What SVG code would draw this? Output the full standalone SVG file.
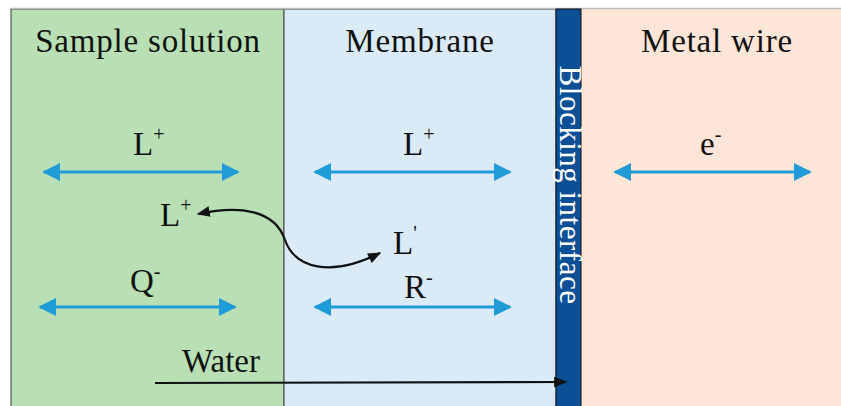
<svg xmlns="http://www.w3.org/2000/svg" width="841" height="406" viewBox="0 0 841 406">
<defs>
<style>
.t{font-size:33px;text-anchor:middle;letter-spacing:0.8px}
.s{font-size:20px}
.b{stroke:#1f9bd7;stroke-width:3;fill:none;marker-start:url(#ba);marker-end:url(#ba)}
.k{stroke:#111;stroke-width:2.2;fill:none}
</style>
<marker id="ba" viewBox="0 0 10 10" refX="9" refY="5" markerWidth="6" markerHeight="6" markerUnits="strokeWidth" orient="auto-start-reverse"><path d="M0,0 L10,5 L0,10 Z" fill="#1f9bd7"/></marker>
<marker id="ka" viewBox="0 0 10 10" refX="9" refY="5" markerWidth="6" markerHeight="6" markerUnits="strokeWidth" orient="auto-start-reverse"><path d="M0,1 L10,5 L0,9 Z" fill="#111"/></marker>
</defs>
<rect x="0" y="0" width="841" height="406" fill="#fff"/>
<g font-family="'Liberation Serif', 'Times New Roman', serif" fill="#111">
<g id="sample">
<rect x="11" y="9" width="273" height="400" fill="#b9e0b5" stroke="#555" stroke-width="1.2"/>
<text class="t" x="148" y="52">Sample solution</text>
</g>
<g id="membrane">
<rect x="284" y="9" width="272" height="400" fill="#daeaf7" stroke="#555" stroke-width="1.2"/>
<text class="t" x="420" y="52">Membrane</text>
</g>
<g id="metal">
<rect x="581" y="9" width="262" height="400" fill="#fde5d7"/>
<text class="t" x="717" y="52">Metal wire</text>
</g>
<line x1="11" y1="8.5" x2="841" y2="8.5" stroke="#bbb" stroke-width="1.5"/>
<g id="blocking">
<rect x="556" y="9" width="25" height="400" fill="#0b4f97" stroke="#111" stroke-width="1"/>
<text x="0" y="0" transform="translate(560,185) rotate(90)" font-size="31" letter-spacing="0.5" text-anchor="middle" fill="#fff">Blocking interface</text>
</g>
<g id="labels" font-size="33">
<text x="133" y="155">L<tspan class="s" dy="-14">+</tspan></text>
<text x="403" y="155">L<tspan class="s" dy="-14">+</tspan></text>
<text x="700" y="155">e<tspan class="s" dy="-14">-</tspan></text>
<text x="160" y="226">L<tspan class="s" dy="-14">+</tspan></text>
<text x="393" y="254">L<tspan class="s" dy="-14">'</tspan></text>
<text x="130" y="292">Q<tspan class="s" dy="-14">-</tspan></text>
<text x="404" y="298">R<tspan class="s" dy="-14">-</tspan></text>
<text x="182" y="372">Water</text>
</g>
</g>
<g id="connectors">
<line class="b" x1="44" y1="172" x2="238" y2="172"/>
<line class="b" x1="315" y1="172" x2="510" y2="172"/>
<line class="b" x1="615" y1="172" x2="810" y2="172"/>
<line class="b" x1="40" y1="307" x2="235" y2="307"/>
<line class="b" x1="315" y1="307" x2="510" y2="307"/>
<path class="k" d="M198,214 C240,205 275,210 285,240 C295,268 330,278 380,253" marker-start="url(#ka)" marker-end="url(#ka)"/>
<line class="k" x1="155" y1="383" x2="566" y2="382" marker-end="url(#ka)"/>
</g>
</svg>
